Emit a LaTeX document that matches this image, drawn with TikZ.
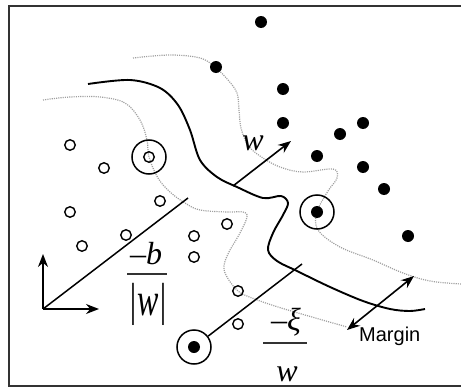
\documentclass[tikz,border=0pt]{standalone}
\usepackage{fontspec}
\setmainfont{Liberation Serif}
\newfontfamily\labsans{Liberation Sans}
\usetikzlibrary{arrows.meta}
\tikzset{
  opendot/.style={circle,draw=black,line width=1.4pt,minimum size=10.5pt,inner sep=0pt},
  filldot/.style={circle,fill=black,minimum size=12pt,inner sep=0pt},
  ring/.style={circle,draw=black,line width=1.5pt,minimum size=34pt,inner sep=0pt},
  margincurve/.style={gray!75,line width=1.2pt,dash pattern=on 1.1pt off 1.1pt},
  boundary/.style={black,line width=1.9pt},
  thinline/.style={black,line width=1.5pt},
  arr/.style={-{Stealth[length=13pt,width=10pt]},black,line width=1.6pt},
  darr/.style={{Stealth[length=13pt,width=10pt]}-{Stealth[length=13pt,width=10pt]},black,line width=1.6pt},
  mathlab/.style={inner sep=0pt,font=\fontsize{32}{36}\selectfont\itshape},
  fracbar/.style={black!80,line width=1.4pt},
}
\begin{document}
\begin{tikzpicture}[x=1pt,y=-1pt]
\useasboundingbox (0,0) rectangle (461,388);
% frame
\draw[black!80,line width=1.8pt] (462,6) -- (9,6) -- (9,386) -- (462,386);

% margin curves
\draw[margincurve] plot[smooth,tension=0.6] coordinates {(43,100) (70,97) (100,97) (125,103) (140,120) (147,140) (149,157) (158,178) (170,192) (185,203) (200,210) (227,212) (243,212) (247,217) (240,233) (229,252) (224,266) (227,277) (238,291) (252,298) (278,307) (312,317) (347,327)};
\draw[margincurve] plot[smooth,tension=0.6] coordinates {(133,58) (170,55) (200,58) (215,67) (228,80) (237,93) (239,110) (241,128) (248,145) (260,156) (280,167) (303,172) (333,169) (337,178) (328,191) (317,212) (318,230) (340,247) (373,260) (403,273) (430,281) (461,284)};

% decision boundary
\draw[boundary] plot[smooth,tension=0.55] coordinates {(88,84) (130,80) (160,88) (178,105) (190,130) (200,160) (217,177) (237,187) (263,198) (281,196) (288,203) (283,215) (273,233) (268,250) (277,261) (297,271) (330,287) (363,301) (390,309) (410,311) (425,309)};

% open circles (class -1)
\node[opendot] (o1) at (70,145) {};
\node[opendot] (o2) at (104,168) {};
\node[opendot] (o3) at (149,157) {};
\node[ring] (r3) at (149,157) {};
\node[opendot] (o4) at (70,212) {};
\node[opendot] (o5) at (160,201) {};
\node[opendot] (o6) at (126,235) {};
\node[opendot] (o7) at (82,246) {};
\node[opendot] (o8) at (194,236) {};
\node[opendot] (o9) at (194,257) {};
\node[opendot] (o10) at (227,224) {};
\node[opendot] (o11) at (238,291) {};
\node[opendot] (o12) at (238,324) {};

% filled dots (class +1)
\node[filldot] (f1) at (261,22) {};
\node[filldot] (f2) at (216,67) {};
\node[filldot] (f3) at (283,89) {};
\node[filldot] (f4) at (283,123) {};
\node[filldot] (f5) at (363,123) {};
\node[filldot] (f6) at (340,134) {};
\node[filldot] (f7) at (317,156) {};
\node[filldot] (f8) at (363,167) {};
\node[filldot] (f9) at (384,189) {};
\node[filldot] (f10) at (408,236) {};
\node[filldot] (f11) at (317,212) {};
\node[ring] (r11) at (317,212) {};
\node[filldot] (f12) at (194,347) {};
\node[ring] (r12) at (194,347) {};

% axes
\coordinate (org) at (43,309);
\coordinate (yax) at (43,254);
\coordinate (xax) at (99,309);
\draw[arr] (org) -- (yax);
\draw[arr] (org) -- (xax);

% offset line -b/|w|
\coordinate (bend) at (188,198);
\draw[thinline] (org) -- (bend);

% normal vector w
\coordinate (wstart) at (233,186);
\coordinate (wtip) at (291,141);
\draw[arr] (wstart) -- (wtip);
\node[mathlab] (wlab) at (253,143) {w};

% slack line
\coordinate (xiend) at (302,264);
\draw[thinline] (r12) -- (xiend);

% margin arrow
\coordinate (ma) at (347,330);
\coordinate (mb) at (414,276);
\draw[darr] (ma) -- (mb);
\node[anchor=base west,inner sep=0pt,font=\labsans\fontsize{20}{24}\selectfont] (mlab) at (359,341) {Margin};

% fraction -b/|w|
\node[mathlab] (bnum) at (146,254) {\textendash b};
\coordinate (b1) at (127,274);
\coordinate (b2) at (167,274);
\draw[fracbar] (b1) -- (b2);
\node[mathlab] (bden) at (148,304) {\scalebox{1}[1.45]{|w|}};

% fraction -xi/w
\node[mathlab] (xnum) at (286,322) {\textendash ξ};
\coordinate (x1) at (263,343);
\coordinate (x2) at (307,343);
\draw[fracbar] (x1) -- (x2);
\node[mathlab] (xden) at (287,374) {w};
\end{tikzpicture}
\end{document}
